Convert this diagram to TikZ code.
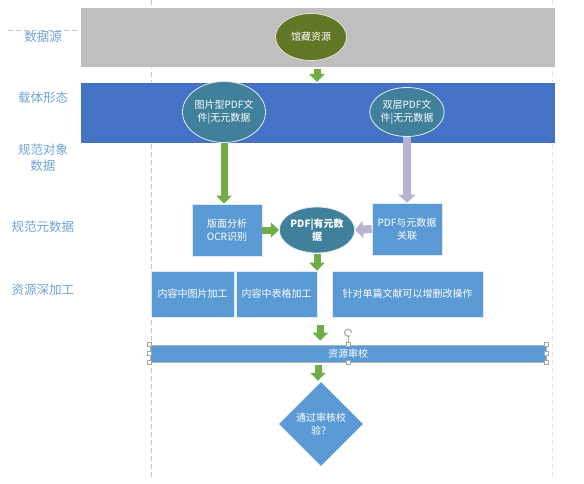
\documentclass[tikz,border=0pt]{standalone}
\usepackage{fontspec}
\setmainfont{Noto Sans CJK SC}
\usetikzlibrary{arrows.meta,positioning,shapes.geometric}
\definecolor{bandgrey}{HTML}{BFBFBF}
\definecolor{bandblue}{HTML}{4472C4}
\definecolor{boxblue}{HTML}{5B9BD5}
\definecolor{olive}{HTML}{617726}
\definecolor{teal2}{HTML}{41809B}
\definecolor{arrowgreen}{HTML}{70AD47}
\definecolor{lavender}{HTML}{B8B3D3}
\definecolor{labelblue}{HTML}{6FA3D8}
\definecolor{guidegrey}{HTML}{C4C4C4}

\begin{document}
\begin{tikzpicture}[x=1pt,y=-1pt,font=\fontsize{10}{12.5}\selectfont,
  band/.style={draw=white,line width=0.8pt,inner sep=0pt,anchor=north west},
  ell/.style={ellipse,draw=white!85!teal2,line width=0.8pt,fill=teal2,text=white,align=center,inner sep=0pt},
  box/.style={draw=white!80!boxblue,line width=0.6pt,fill=boxblue,text=white,align=center,inner sep=0pt},
  lane/.style={text=labelblue,font=\fontsize{12.5}{16}\selectfont,align=center},
  guide/.style={guidegrey,line width=0.6pt,dash pattern=on 5pt off 3pt},
  greenarrow/.style={draw=arrowgreen,line width=7pt,-{Triangle[width=15pt,length=8pt]}},
  lavarrow/.style={draw=lavender,line width=8pt,-{Triangle[width=17pt,length=8pt]}},
  handle/.style={draw=gray!70,fill=white,line width=0.5pt,minimum size=4pt,inner sep=0pt}]
\useasboundingbox (0,0) rectangle (584,484);
% guide lines
\draw[guide] (151,0) -- (151,477);
\draw[guide,guidegrey!50] (552,0) -- (552,477);
\draw[guide] (8,30) -- (80,30);
% lane labels
\node[lane] (lsrc) at (43,37) {数据源};
\node[lane] (lcarrier) at (43,98) {载体形态};
\node[lane] (lobj) at (43,158) {规范对象\\数据};
\node[lane] (lmeta) at (43,227) {规范元数据};
\node[lane] (ldeep) at (43,290) {资源深加工};
% bands
\node[band,fill=bandgrey,minimum width=475,minimum height=60] (srcband) at (80,7) {};
\node[band,fill=bandblue,minimum width=475,minimum height=61] (carrierband) at (80,82) {};
% nodes
\node[ell,fill=olive,draw=white!80!olive,minimum width=71,minimum height=47] (lib) at (311,37) {馆藏资源};
\node[ell,minimum width=80,minimum height=61] (imgpdf) at (224,112) {图片型PDF文\\件|无元数据};
\node[ell,minimum width=71,minimum height=49] (dualpdf) at (407,112) {双层PDF文\\件|无元数据};
\node[box,minimum width=70,minimum height=52] (ocr) at (227,230) {版面分析\\OCR识别};
\node[ell,minimum width=70,minimum height=46,font=\fontsize{10}{12.5}\selectfont\bfseries] (pdfmeta) at (317,230) {PDF|有元数\\据};
\node[box,minimum width=70,minimum height=52] (link) at (407,229) {PDF与元数据\\关联};
\node[box,minimum width=83,minimum height=46] (imgproc) at (192.5,294) {内容中图片加工};
\node[box,minimum width=81,minimum height=46] (tblproc) at (276.5,294) {内容中表格加工};
\node[box,minimum width=151,minimum height=46] (edit) at (407.5,294) {针对单篇文献可以增删改操作};
\node[box,draw=gray!60,minimum width=396,minimum height=17] (review) at (348,353.5) {资源审校};
\node[diamond,aspect=1,fill=boxblue,text=white,align=center,inner sep=0pt,minimum width=84,minimum height=84] (check) at (321,424) {通过审核校\\验？};
% connectors
\draw[greenarrow,shorten <=1pt] ([xshift=6pt]lib.south |- srcband.south) -- ([xshift=6pt]lib.south |- carrierband.north);
\draw[greenarrow] (imgpdf.south) -- (imgpdf.south |- ocr.north);
\draw[lavarrow] (dualpdf.south) -- (dualpdf.south |- link.north);
\draw[greenarrow] (ocr.east) -- (pdfmeta.west);
\draw[lavarrow] (link.west) -- (pdfmeta.east);
\draw[greenarrow,shorten <=1pt] (pdfmeta.south) -- (pdfmeta.south |- tblproc.north);
\draw[greenarrow,shorten <=8pt,shorten >=4pt] ([xshift=3pt]tblproc.south east) -- ([xshift=3pt]tblproc.south east |- review.north);
\draw[greenarrow,shorten <=3pt,shorten >=1pt] ([xshift=-3pt]check.north |- review.south) -- ([xshift=-3pt]check.north);
% selection handles
\foreach \a in {north west,west,south west,north,south,north east,east,south east}
  \node[handle] at (review.\a) {};
\coordinate (rot) at ([yshift=12pt]review.north);
\draw[gray!70,line width=0.5pt] (review.north) ++(0,-2) -- ([yshift=-4pt]rot);
\draw[gray!60,line width=1.2pt,-{Triangle[width=3.5pt,length=2.5pt]}] ([xshift=3.5pt]rot) arc[start angle=0,end angle=300,radius=3.5pt];
\end{tikzpicture}
\end{document}
